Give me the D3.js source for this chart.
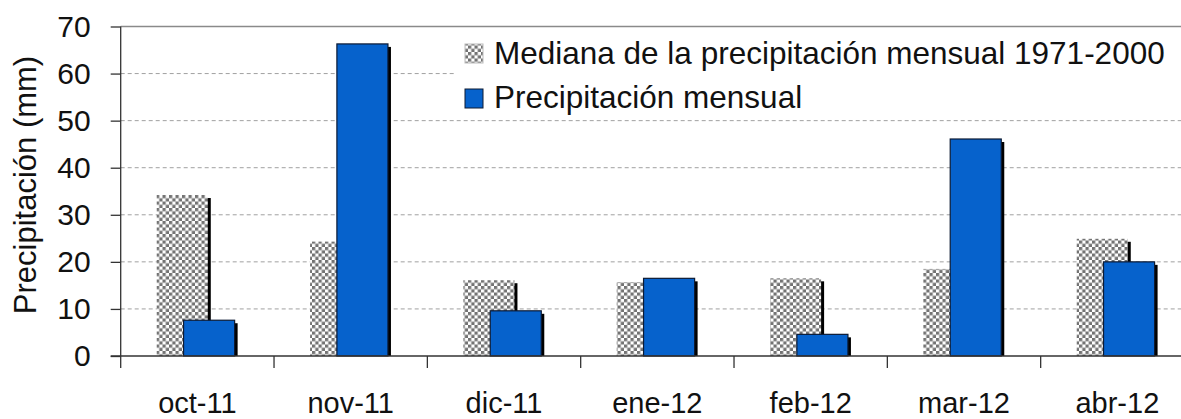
<!DOCTYPE html>
<html>
<head>
<meta charset="utf-8">
<script src="https://cdn.jsdelivr.net/npm/d3@7"></script>
<style>
  html, body { margin: 0; padding: 0; background: #fff; overflow: hidden; }
  svg { display: block; font-family: "Liberation Sans", Arial, sans-serif; }
</style>
</head>
<body>
<svg id="chart" width="1181" height="419"></svg>
<script>
const categories = ['oct-11', 'nov-11', 'dic-11', 'ene-12', 'feb-12', 'mar-12', 'abr-12'];
const medianValues = [34.2, 24.3, 16.1, 15.7, 16.5, 18.5, 24.9];
const monthlyValues = [7.6, 66.3, 9.6, 16.5, 4.6, 46.1, 20.0];
const yTicks = [0, 10, 20, 30, 40, 50, 60, 70];
const legendLabels = ['Mediana de la precipitación mensual 1971-2000', 'Precipitación mensual'];
const yTitle = 'Precipitación (mm)';

const margin = { left: 120.7, right: 1194, top: 26.5, bottom: 356 },
    svg = d3.select('#chart');

const x = d3.scaleBand().domain(categories).range([margin.left, margin.right]).padding(0),
    y = d3.scaleLinear().domain([0, 70]).range([margin.bottom, margin.top]),
    bw = x.bandwidth();

// checker pattern for the median series
const defs = svg.append('defs');
const pat = defs.append('pattern')
    .attr('id', 'checker')
    .attr('patternUnits', 'userSpaceOnUse')
    .attr('width', 6.5).attr('height', 6.5);
pat.append('rect').attr('width', 6.5).attr('height', 6.5).attr('fill', '#fff');
pat.append('rect').attr('width', 3.25).attr('height', 3.25).attr('fill', '#737373');
pat.append('rect').attr('x', 3.25).attr('y', 3.25).attr('width', 3.25).attr('height', 3.25).attr('fill', '#737373');

// gridlines
svg.append('g')
    .selectAll('line')
    .data(yTicks.filter(t => t > 0))
    .enter().append('line')
    .attr('x1', margin.left).attr('x2', margin.right)
    .attr('y1', d => y(d)).attr('y2', d => y(d))
    .attr('stroke', d => d === 70 ? '#8a8a8a' : '#a0a0a0')
    .attr('stroke-width', d => d === 70 ? 1.5 : 1)
    .attr('stroke-dasharray', d => d === 70 ? null : '4,3');

// bars
const series = [
    { values: medianValues, off: 0.235, fill: 'url(#checker)', stroke: 'none' },
    { values: monthlyValues, off: 0.41, fill: '#0662cc', stroke: '#0c1a33' }
];
const barW = bw * 0.333;

series.forEach(s => {
    const g = svg.append('g');
    g.selectAll('rect.shadow')
        .data(s.values)
        .enter().append('rect')
        .attr('class', 'shadow')
        .attr('x', (d, i) => x(categories[i]) + bw * s.off + 3)
        .attr('y', d => y(d) + 3)
        .attr('width', barW)
        .attr('height', d => Math.max(0, y(0) - y(d) - 3))
        .attr('fill', '#000');
    g.selectAll('rect.bar')
        .data(s.values)
        .enter().append('rect')
        .attr('class', 'bar')
        .attr('x', (d, i) => x(categories[i]) + bw * s.off)
        .attr('y', d => y(d))
        .attr('width', barW)
        .attr('height', d => y(0) - y(d))
        .attr('fill', s.fill)
        .attr('stroke', s.stroke)
        .attr('stroke-width', s.stroke === 'none' ? 0 : 1.2);
});

// y axis
const yAxis = svg.append('g')
    .attr('transform', 'translate(' + margin.left + ',0)')
    .call(d3.axisLeft(y).tickValues(yTicks).tickSize(10).tickPadding(20).tickSizeOuter(0));
yAxis.select('.domain').remove();
yAxis.selectAll('line').attr('stroke', '#333').attr('stroke-width', 1.3);
yAxis.selectAll('text').attr('font-size', 30).attr('fill', '#111')
    .attr('font-family', '"Liberation Sans", Arial, sans-serif');
svg.append('line')
    .attr('x1', margin.left).attr('x2', margin.left)
    .attr('y1', margin.top).attr('y2', margin.bottom + 12)
    .attr('stroke', '#333').attr('stroke-width', 1.3);

// x axis
svg.append('line')
    .attr('x1', margin.left - 10).attr('x2', margin.right)
    .attr('y1', margin.bottom).attr('y2', margin.bottom)
    .attr('stroke', '#333').attr('stroke-width', 1.3);
svg.append('g')
    .selectAll('line')
    .data(categories.slice(1))
    .enter().append('line')
    .attr('x1', d => x(d)).attr('x2', d => x(d))
    .attr('y1', margin.bottom).attr('y2', margin.bottom + 12)
    .attr('stroke', '#333').attr('stroke-width', 1.3);
const xAxis = svg.append('g')
    .attr('transform', 'translate(0,' + margin.bottom + ')')
    .call(d3.axisBottom(x).tickSize(0).tickPadding(0));
xAxis.select('.domain').remove();
xAxis.selectAll('text')
    .attr('y', 57).attr('dy', null)
    .attr('font-size', 29).attr('fill', '#111')
    .attr('font-family', '"Liberation Sans", Arial, sans-serif');

// y title
svg.append('text')
    .attr('transform', 'translate(36,185) rotate(-90)')
    .attr('text-anchor', 'middle')
    .attr('font-size', 31)
    .attr('fill', '#111')
    .text(yTitle);

// legend
const legend = svg.append('g');
legend.append('rect')
    .attr('x', 455).attr('y', 31).attr('width', 740).attr('height', 84)
    .attr('fill', '#fff');
const fills = ['url(#checker)', '#0662cc'],
    strokes = ['#bbb', '#0c1a33'];
legendLabels.forEach((label, i) => {
    legend.append('rect')
        .attr('x', 465).attr('y', 44 + i * 45)
        .attr('width', 18).attr('height', 19)
        .attr('fill', fills[i])
        .attr('stroke', strokes[i]).attr('stroke-width', 1);
    legend.append('text')
        .attr('x', 494).attr('y', 64 + i * 44)
        .attr('font-size', 31.5)
        .attr('fill', '#111')
        .text(label);
});
</script>
</body>
</html>
